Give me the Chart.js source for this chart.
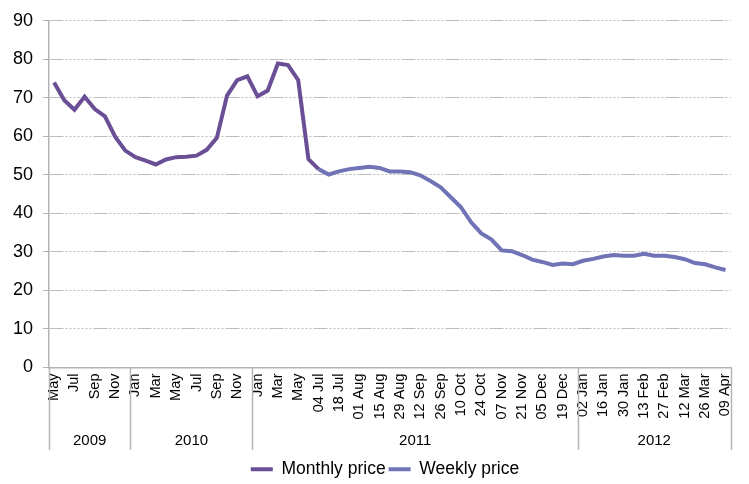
<!DOCTYPE html>
<html>
<head>
<meta charset="utf-8">
<script src="https://cdn.jsdelivr.net/npm/chart.js@4.4.0/dist/chart.umd.min.js"></script>
<style>
  html, body { margin: 0; padding: 0; background: #fff; }
  #wrap { width: 749px; height: 484px; }
</style>
</head>
<body>
<div id="wrap"><canvas id="priceChart"></canvas></div>
<script>
// categories: monthly May 2009 - Jun 2011, then weekly from 04 Jul 2011
const monthLabels = ["May", "Jun", "Jul", "Aug", "Sep", "Oct", "Nov", "Dec",
  "Jan", "Feb", "Mar", "Apr", "May", "Jun", "Jul", "Aug", "Sep", "Oct", "Nov", "Dec",
  "Jan", "Feb", "Mar", "Apr", "May", "Jun"];
const weekLabels = ["04 Jul", "11 Jul", "18 Jul", "25 Jul", "01 Aug", "08 Aug", "15 Aug", "22 Aug",
  "29 Aug", "05 Sep", "12 Sep", "19 Sep", "26 Sep", "03 Oct", "10 Oct", "17 Oct", "24 Oct", "31 Oct",
  "07 Nov", "14 Nov", "21 Nov", "28 Nov", "05 Dec", "12 Dec", "19 Dec", "26 Dec",
  "02 Jan", "09 Jan", "16 Jan", "23 Jan", "30 Jan", "06 Feb", "13 Feb", "20 Feb", "27 Feb",
  "05 Mar", "12 Mar", "19 Mar", "26 Mar", "02 Apr", "09 Apr"];
const years = ["2009", "2010", "2011", "2012"];
const yearCounts = [8, 12, 32, 15];

const monthlyPrice = [74.0, 69.4, 66.9, 70.3, 67.1, 65.2, 59.9, 56.3,
  54.6, 53.7, 52.7, 54.0, 54.6, 54.7, 55.0, 56.5, 59.6, 70.6, 74.6, 75.6,
  70.4, 71.9, 78.9, 78.5, 74.6, 54.1];
const weeklyPrice = [51.5, 50.1, 50.9, 51.5, 51.8, 52.1, 51.8, 50.9,
  50.9, 50.7, 49.9, 48.4, 46.8, 44.2, 41.6, 37.7, 34.8, 33.2,
  30.4, 30.2, 29.2, 28.0, 27.4, 26.6, 27.0, 26.8,
  27.7, 28.2, 28.8, 29.2, 29.0, 29.0, 29.5, 29.0, 29.0,
  28.7, 28.1, 27.1, 26.8, 26.0, 25.3];

const yTicks = [0, 10, 20, 30, 40, 50, 60, 70, 80, 90];

let labels = monthLabels.concat(weekLabels);
let nM = monthLabels.length;
// monthly line runs on to the first weekly point
let monthlyData = labels.map((l, i) => i < nM ? monthlyPrice[i] : (i == nM ? weeklyPrice[0] : null));
let weeklyData = labels.map((l, i) => i < nM ? null : weeklyPrice[i - nM]);

const axisGrey = "#b4b4b4";
const font = "'Liberation Sans', Arial, sans-serif";

// year groups under the month/week labels
const yearGroups = {
  id: "yearGroups",
  afterLayout(chart) {
    // legend sits a bit right of centre and lower in the original
    if (chart.legend) {
      chart.legend.left += 18;
      chart.legend.right += 18;
      chart.legend.top += 4;
      chart.legend.bottom += 4;
    }
  },
  afterDraw(chart) {
    let ctx = chart.ctx;
    let x = chart.scales.x;
    let area = chart.chartArea;
    let bottom = 450;
    ctx.save();
    ctx.strokeStyle = axisGrey;
    ctx.lineWidth = 1.5;
    let start = 0;
    let edges = [x.getPixelForValue(-0.5)];
    years.forEach((y, k) => {
      let end = start + yearCounts[k];
      edges.push(x.getPixelForValue(end - 0.5));
      start = end;
    });
    edges.forEach((e) => {
      ctx.beginPath();
      ctx.moveTo(Math.round(e) + 0.5, area.bottom);
      ctx.lineTo(Math.round(e) + 0.5, bottom);
      ctx.stroke();
    });
    ctx.fillStyle = "#000";
    ctx.font = "15px " + font;
    ctx.textAlign = "center";
    ctx.textBaseline = "middle";
    years.forEach((y, k) => {
      ctx.fillText(y, (edges[k] + edges[k + 1]) / 2, 441);
    });
    ctx.restore();
  },
};

let options = {
  type: "line",
  data: {
    labels: labels,
    datasets: [
      {
        label: "Monthly price",
        data: monthlyData,
        borderColor: "#6a4f96",
        backgroundColor: "#6a4f96",
        borderWidth: 4,
        pointRadius: 0,
        tension: 0,
        spanGaps: false,
      },
      {
        label: "Weekly price",
        data: weeklyData,
        borderColor: "#7173b7",
        backgroundColor: "#7173b7",
        borderWidth: 4,
        pointRadius: 0,
        tension: 0,
        spanGaps: false,
      },
    ],
  },
  options: {
    responsive: true,
    maintainAspectRatio: false,
    animation: false,
    layout: {
      padding: { top: 20, right: 15, left: 0, bottom: 0 },
    },
    plugins: {
      tooltip: { enabled: false },
      legend: {
        position: "bottom",
        labels: {
          usePointStyle: true,
          pointStyle: "line",
          pointStyleWidth: 22,
          boxHeight: 16,
          padding: 3,
          color: "#000",
          font: { family: font, size: 17.5 },
        },
      },
    },
    scales: {
      x: {
        type: "category",
        offset: true,
        grid: { display: true, drawOnChartArea: false, drawTicks: false, color: axisGrey, lineWidth: 1.5 },
        border: { color: axisGrey, width: 1.5 },
        ticks: {
          autoSkip: false,
          minRotation: 90,
          maxRotation: 90,
          padding: 6,
          color: "#000",
          font: { family: font, size: 14.5 },
          callback: function (val, idx) {
            return idx % 2 === 0 ? this.getLabelForValue(val) : "";
          },
        },
        afterFit: function (scale) {
          scale.height = 86;
        },
      },
      y: {
        min: 0,
        max: 90,
        afterBuildTicks: function (scale) {
          scale.ticks = yTicks.map((v) => ({ value: v }));
        },
        grid: {
          color: "#bdbdbd",
          lineWidth: 1,
          tickLength: 6,
          tickColor: axisGrey,
          tickBorderDash: [],
        },
        border: {
          color: axisGrey,
          width: 1.5,
          dash: [14, 2, 2, 2, 2, 2, 2, 2, 2, 2, 2, 2, 2, 2, 2, 2],
        },
        ticks: {
          padding: 10,
          color: "#000",
          font: { family: font, size: 18 },
        },
        afterFit: function (scale) {
          scale.width = 49;
        },
      },
    },
  },
  plugins: [yearGroups],
};

const priceChart = new Chart(document.getElementById("priceChart"), options);
</script>
</body>
</html>
